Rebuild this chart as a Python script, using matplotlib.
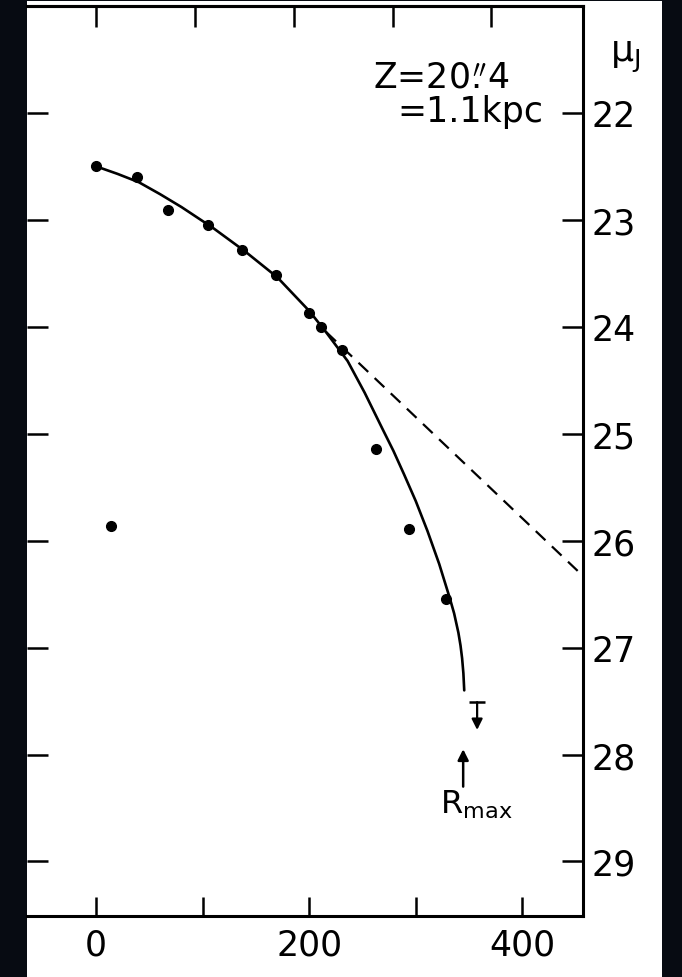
import matplotlib
matplotlib.use("Agg")
import matplotlib.pyplot as plt
from matplotlib.patches import Rectangle

# ---------------- data ----------------
# measured points: radius (arcsec) vs surface brightness mu_J (mag/arcsec^2)
pts_r = [0, 38.5, 67.7, 104.6, 137.3, 168.8, 200.2, 211.0, 230.8, 263.1, 293.4, 328.2, 13.4]
pts_mu = [22.50, 22.60, 22.91, 23.05, 23.28, 23.52, 23.87, 24.00, 24.22, 25.14, 25.89, 26.55, 25.86]

# fitted (truncated) profile
fit_r = [0, 20, 40, 60, 80, 110, 140, 170, 200, 215, 236, 252, 269, 279, 289, 300,
         311, 322, 332, 336, 340, 342, 343.5, 344.7, 345.5]
fit_mu = [22.50, 22.57, 22.648, 22.76, 22.88, 23.078, 23.297, 23.537, 23.852, 24.04,
          24.32, 24.616, 24.96, 25.16, 25.38, 25.63, 25.91, 26.218, 26.54, 26.68,
          26.86, 26.98, 27.10, 27.24, 27.40]

# pure exponential extrapolation (dashed)
exp_r = [216, 457]
exp_mu = [24.05, 26.33]

# upper limit and R_max marker
ulim_r, ulim_mu, ulim_tip = 357.6, 27.51, 27.77
rmax_r, rmax_base, rmax_tip = 344.5, 28.30, 27.95

x_ticks_major = [0, 200, 400]
x_ticks_minor = [100, 300]
y_ticks = [22, 23, 24, 25, 26, 27, 28, 29]
kpc_ticks = [0, 5, 10, 15, 20]
kpc_per_arcsec = 1.1 / 20.4

# ---------------- figure ----------------
W, H = 682, 978
fig = plt.figure(figsize=(W / 100, H / 100), dpi=100, facecolor="#070b12")
fig.patches.append(Rectangle((27 / W, 0), (662 - 27) / W, (978 - 2) / H,
                             transform=fig.transFigure, facecolor="white",
                             edgecolor="none", zorder=-10))

ax = fig.add_axes([27 / W, (H - 917) / H, (583 - 27) / W, (917 - 7) / H])
ax.set_facecolor("white")
ax.set_xlim(-65, 457)
ax.set_ylim(29.51, 21.0)

for s in ["top", "right", "bottom"]:
    ax.spines[s].set_linewidth(2.2)
ax.spines["left"].set_visible(False)

FS = 25
ax.set_xticks(x_ticks_major)
ax.set_xticks(x_ticks_minor, minor=True)
ax.set_xticklabels([str(v) for v in x_ticks_major], fontsize=FS)
ax.set_yticks(y_ticks)
ax.tick_params(axis="x", which="both", direction="in", length=14, width=1.8,
               pad=8, top=False)
ax.tick_params(axis="y", which="both", direction="in", length=15, width=1.8,
               left=True, right=True, labelleft=False, labelright=True,
               labelsize=FS, pad=6)

sec = ax.secondary_xaxis("top", functions=(lambda x: x * kpc_per_arcsec,
                                          lambda k: k / kpc_per_arcsec))
sec.set_xticks(kpc_ticks)
sec.set_xticklabels([])
sec.tick_params(direction="in", length=15, width=1.8)
sec.spines["top"].set_linewidth(2.2)

# curves and points
ax.plot(fit_r, fit_mu, color="black", lw=1.9, solid_joinstyle="round",
        solid_capstyle="round", zorder=3)
ax.plot(exp_r, exp_mu, color="black", lw=1.6, linestyle=(0, (6, 4)), zorder=3,
        clip_on=False)
ax.plot(pts_r, pts_mu, "o", color="black", ms=7, zorder=4)

# upper limit
ax.plot([ulim_r], [ulim_mu], marker="_", ms=11, mew=1.8, color="black")
ax.annotate("", xy=(ulim_r, ulim_tip), xytext=(ulim_r, ulim_mu),
            arrowprops=dict(arrowstyle="-|>", color="black", lw=1.6,
                            mutation_scale=16, shrinkA=0, shrinkB=0))
# R_max arrow
ax.annotate("", xy=(rmax_r, rmax_tip), xytext=(rmax_r, rmax_base),
            arrowprops=dict(arrowstyle="-|>", color="black", lw=1.8,
                            mutation_scale=16, shrinkA=0, shrinkB=0))
ax.text(323, 28.54, r"R$_{\mathrm{max}}$", fontsize=23, va="baseline", ha="left")

# annotation Z = 20".4 = 1.1 kpc  (arcsec sign above the decimal point)
ax.text(260, 21.75, r"Z=20$\overset{\prime\prime}{\mathregular{.}}$4",
        fontsize=FS, va="baseline", ha="left")
ax.text(283, 22.08, "=1.1kpc", fontsize=FS, va="baseline", ha="left")

# axis label mu_J on the right
ax.text(482.5, 21.51, r"$\mathregular{\mu_J}$", fontsize=26,
        va="baseline", ha="left", clip_on=False)

fig.savefig("out.png", dpi=100, facecolor=fig.get_facecolor())
